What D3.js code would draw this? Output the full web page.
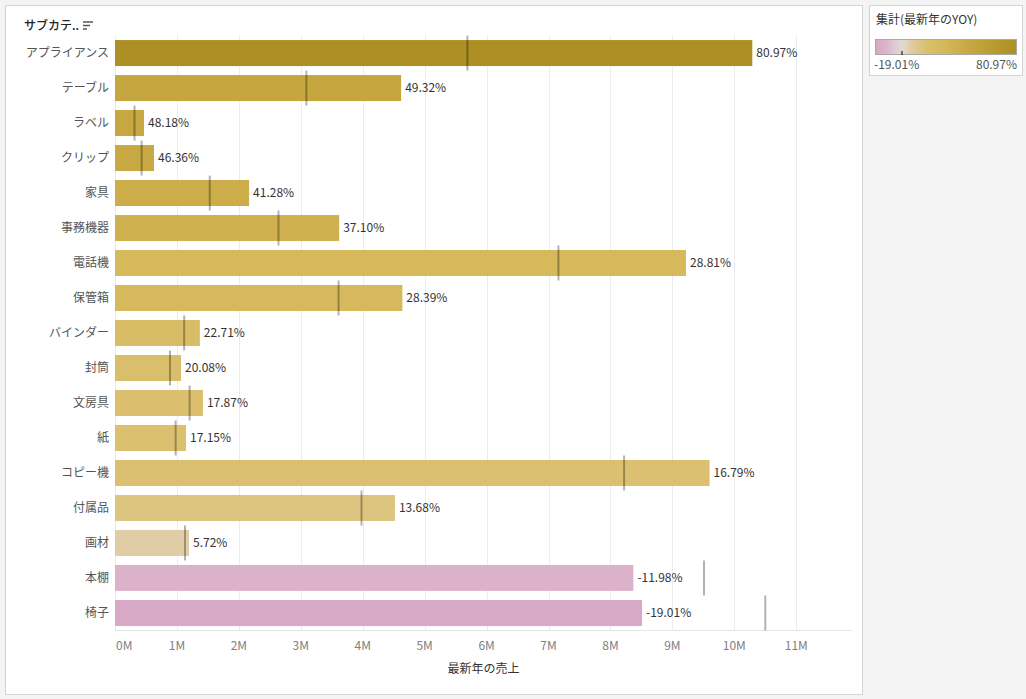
<!DOCTYPE html>
<html><head><meta charset="utf-8">
<script src="https://cdn.jsdelivr.net/npm/d3@7"></script>
<style>
body{margin:0;background:#f4f4f4;}
svg{display:block;font-family:"Noto Sans CJK JP","Noto Sans",sans-serif;}
</style></head>
<body><svg id="c" width="1026" height="699"></svg>
<script>
const categories = ["アプライアンス","テーブル","ラベル","クリップ","家具","事務機器","電話機","保管箱","バインダー","封筒","文房具","紙","コピー機","付属品","画材","本棚","椅子"];
const sales     = [10.29, 4.62, 0.468, 0.63, 2.165, 3.62, 9.22, 4.64, 1.37, 1.066, 1.42, 1.147, 9.60, 4.52, 1.195, 8.37, 8.51]; // M
const prevSales = [5.69, 3.09, 0.315, 0.43, 1.53, 2.64, 7.16, 3.61, 1.117, 0.888, 1.205, 0.979, 8.22, 3.98, 1.13, 9.51, 10.50]; // M
const yoy       = [80.97, 49.32, 48.18, 46.36, 41.28, 37.10, 28.81, 28.39, 22.71, 20.08, 17.87, 17.15, 16.79, 13.68, 5.72, -11.98, -19.01];
const xTicks = [0,1,2,3,4,5,6,7,8,9,10,11];
const xTitle = "最新年の売上";
const legendTitle = "集計(最新年のYOY)";
const headerTitle = "サブカテ..";

(function(){
const svg = d3.select("#c");
svg.append("rect").attr("x",5.5).attr("y",5.5).attr("width",857).attr("height",689).attr("fill","#fff").attr("stroke","#d4d4d4");
svg.append("rect").attr("x",869.5).attr("y",5.5).attr("width",153).attr("height",70).attr("fill","#fff").attr("stroke","#d4d4d4");

const pL=115, pR=852, pT=35, pB=630;
const x = d3.scaleLinear().domain([0, 11.9]).range([pL, pR]);
const y = d3.scaleBand().domain(categories).range([35.5, 630.5]).paddingInner(0.257).paddingOuter(0.13);

const ymin = d3.min(yoy), ymax = d3.max(yoy);
const color = d3.scaleLinear()
  .domain([ymin, -11.98, 0, 6, 17, 30, 49, ymax])
  .range(["#d7a9c6","#dcb2ca","#e0dcd8","#e0cca2","#dbc070","#d4b859","#c6a63f","#ad8f24"])
  .interpolate(d3.interpolateRgb);

const g = svg.append("g");
g.selectAll("line.grid").data(xTicks).join("line")
  .attr("x1",d=>Math.round(x(d))+0.5).attr("x2",d=>Math.round(x(d))+0.5)
  .attr("y1",pT).attr("y2",pB).attr("stroke","#ececec").attr("stroke-width",1);
g.append("line").attr("x1",pL).attr("x2",pR).attr("y1",pB+0.5).attr("y2",pB+0.5).attr("stroke","#e6e6e6");

const rows = categories.map((c,i)=>({c, s:sales[i], p:prevSales[i], v:yoy[i]}));
g.selectAll("rect.bar").data(rows).join("rect")
  .attr("x",x(0)).attr("y",d=>y(d.c)).attr("width",d=>x(d.s)-x(0)).attr("height",y.bandwidth())
  .attr("fill",d=>color(d.v));
g.selectAll("line.ref").data(rows).join("line")
  .attr("x1",d=>x(d.p)).attr("x2",d=>x(d.p))
  .attr("y1",d=>y(d.c)+y.bandwidth()/2-17.5).attr("y2",d=>y(d.c)+y.bandwidth()/2+17.5)
  .attr("stroke","#000").attr("stroke-opacity",0.3).attr("stroke-width",2);
g.selectAll("text.val").data(rows).join("text")
  .attr("x",d=>x(d.s)+4).attr("y",d=>y(d.c)+y.bandwidth()/2).attr("dy","0.35em")
  .attr("font-size",12).attr("fill","#333").text(d=>d.v.toFixed(2)+"%");
g.selectAll("text.cat").data(rows).join("text")
  .attr("x",109).attr("y",d=>y(d.c)+y.bandwidth()/2).attr("dy","0.35em").attr("text-anchor","end")
  .attr("font-size",12).attr("fill","#555").text(d=>d.c);

g.selectAll("text.tick").data(xTicks).join("text")
  .attr("x",d=>d===0?x(d)+1:x(d)).attr("y",646).attr("dy","0.35em")
  .attr("text-anchor",d=>d===0?"start":"middle")
  .attr("font-size",12).attr("fill","#808080").text(d=>d+"M");
g.append("text").attr("x",(pL+pR)/2).attr("y",669).attr("dy","0.35em").attr("text-anchor","middle")
  .attr("font-size",12).attr("fill","#333").text(xTitle);

svg.append("text").attr("x",24).attr("y",26).attr("dy","0.35em").attr("font-size",12).attr("font-weight","500").attr("fill","#222").text(headerTitle);
[[83,22,10],[83,25.5,7],[83,29,4]].forEach(([a,b,w])=>{
  svg.append("rect").attr("x",a).attr("y",b-0.75).attr("width",w).attr("height",1.5).attr("fill","#555");
});

svg.append("text").attr("x",876).attr("y",20).attr("dy","0.35em").attr("font-size",12).attr("fill","#333").text(legendTitle);
const defs = svg.append("defs");
const grad = defs.append("linearGradient").attr("id","lg");
d3.range(0,41).forEach(i=>{
  const v = ymin + (ymax-ymin)*i/40;
  grad.append("stop").attr("offset",(i/40*100)+"%").attr("stop-color",color(v));
});
const lgX0=875, lgX1=1017;
svg.append("rect").attr("x",lgX0+0.5).attr("y",39.5).attr("width",lgX1-lgX0-1).attr("height",15).attr("fill","url(#lg)").attr("stroke","#a8a8a8");
const lscale = d3.scaleLinear().domain([ymin,ymax]).range([lgX0,lgX1]);
svg.append("line").attr("x1",lscale(0)).attr("x2",lscale(0)).attr("y1",51).attr("y2",55).attr("stroke","#000").attr("stroke-width",1);
svg.append("text").attr("x",874).attr("y",65).attr("dy","0.35em").attr("font-size",12).attr("fill","#555").text(ymin.toFixed(2)+"%");
svg.append("text").attr("x",1017).attr("y",65).attr("dy","0.35em").attr("text-anchor","end").attr("font-size",12).attr("fill","#555").text(ymax.toFixed(2)+"%");
})();
</script></body></html>
